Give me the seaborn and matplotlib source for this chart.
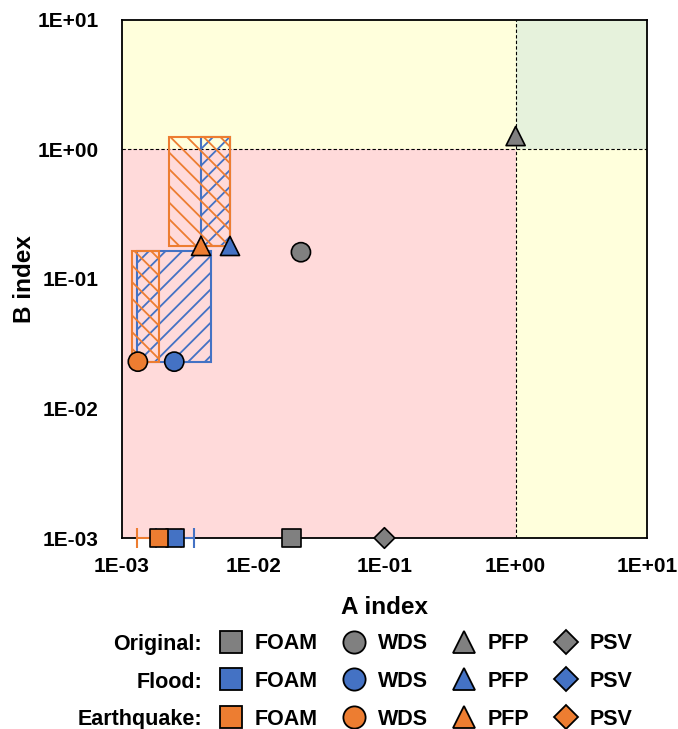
import matplotlib
matplotlib.use("Agg")
import matplotlib.pyplot as plt
import matplotlib.ticker as mticker
from matplotlib.patches import Rectangle
from matplotlib.lines import Line2D
import pandas as pd
import seaborn as sns

# scenarios and colours
scenarios = ["Original", "Flood", "Earthquake"]
colors = {"Original": "#808080", "Flood": "#4472C4", "Earthquake": "#ED7D31"}
systems = ["FOAM", "WDS", "PFP", "PSV"]
markers = {"FOAM": "s", "WDS": "o", "PFP": "^", "PSV": "D"}
sizes = {"FOAM": 180, "WDS": 190, "PFP": 190, "PSV": 110}

# point values (A index, B index), order: Original, Flood, Earthquake
foam_a = [0.0196, 0.00254, 0.00191]
foam_b = [1e-3, 1e-3, 1e-3]
wds_a = [0.0231, 0.0025, 0.00132]
wds_b = [0.161, 0.023, 0.023]
pfp_a = [1.0, 0.00665, 0.0040]
pfp_b = [1.27, 0.18, 0.18]
psv_a = [0.1]
psv_b = [1e-3]

# FOAM A-index ranges (Flood, Earthquake)
foam_lo = [0.0018, 0.00131]
foam_hi = [0.00356, 0.0028]

# range boxes: (scenario, a_min, a_max, b_min, b_max)
wds_box = [("Flood", 0.00129, 0.00474, 0.023, 0.164),
           ("Earthquake", 0.00119, 0.00191, 0.023, 0.164)]
pfp_box = [("Flood", 0.0040, 0.00665, 0.18, 1.256),
           ("Earthquake", 0.00227, 0.00665, 0.18, 1.256)]

threshold = 1.0
lim = (1e-3, 1e1)

rows = []
for sys_name, xs, ys in [("FOAM", foam_a, foam_b), ("WDS", wds_a, wds_b),
                         ("PFP", pfp_a, pfp_b), ("PSV", psv_a, psv_b)]:
    for sc, x, y in zip(scenarios, xs, ys):
        rows.append({"scenario": sc, "system": sys_name, "A": x, "B": y})
df = pd.DataFrame(rows)

sns.set_theme(style="white")
plt.rcParams["font.family"] = ["Liberation Sans", "DejaVu Sans"]
plt.rcParams["font.weight"] = "bold"
plt.rcParams["text.color"] = "black"
plt.rcParams["axes.labelcolor"] = "black"
plt.rcParams["xtick.color"] = "black"
plt.rcParams["ytick.color"] = "black"
plt.rcParams["hatch.linewidth"] = 1.3

fig = plt.figure(figsize=(6.78, 7.29), dpi=100)
ax = fig.add_axes([0.180, 0.262, 0.774, 0.7106])
ax.set_xscale("log")
ax.set_yscale("log")
ax.set_xlim(lim)
ax.set_ylim(lim)

# background zones
ax.add_patch(Rectangle((lim[0], lim[0]), threshold - lim[0], threshold - lim[0],
                       facecolor="#FFDADA", edgecolor="none", zorder=0))
ax.add_patch(Rectangle((lim[0], threshold), threshold - lim[0], lim[1] - threshold,
                       facecolor="#FFFFDC", edgecolor="none", zorder=0))
ax.add_patch(Rectangle((threshold, lim[0]), lim[1] - threshold, threshold - lim[0],
                       facecolor="#FFFFDC", edgecolor="none", zorder=0))
ax.add_patch(Rectangle((threshold, threshold), lim[1] - threshold, lim[1] - threshold,
                       facecolor="#E6F2DC", edgecolor="none", zorder=0))
ax.axvline(threshold, color="black", ls=(0, (3, 2)), lw=0.8, zorder=1)
ax.axhline(threshold, color="black", ls=(0, (3, 2)), lw=0.8, zorder=1)

# range boxes
for boxes in [wds_box, pfp_box]:
    for sc, x0, x1, y0, y1 in boxes:
        hatch = "//" if sc == "Flood" else "\\\\"
        ax.add_patch(Rectangle((x0, y0), x1 - x0, y1 - y0, facecolor="none",
                               edgecolor=colors[sc], hatch=hatch, lw=1.5, zorder=2))

# FOAM error bars
for sc, x, y, lo, hi in zip(scenarios[1:], foam_a[1:], foam_b[1:], foam_lo, foam_hi):
    ax.errorbar([x], [y], xerr=[[x - lo], [hi - x]], fmt="none", ecolor=colors[sc],
                elinewidth=1.5, capsize=7, capthick=1.5, zorder=3, clip_on=False)

sns.scatterplot(data=df, x="A", y="B", hue="scenario", style="system",
                size="system", sizes=sizes, palette=colors, markers=markers,
                edgecolor="black", linewidth=1.2, legend=False, ax=ax,
                zorder=4, clip_on=False)

ticks = [1e-3, 1e-2, 1e-1, 1e0, 1e1]
fmt = mticker.FuncFormatter(lambda v, p: f"{v:.0E}")
ax.xaxis.set_major_locator(mticker.FixedLocator(ticks))
ax.yaxis.set_major_locator(mticker.FixedLocator(ticks))
ax.xaxis.set_minor_locator(mticker.NullLocator())
ax.yaxis.set_minor_locator(mticker.NullLocator())
ax.xaxis.set_major_formatter(fmt)
ax.yaxis.set_major_formatter(fmt)
ax.tick_params(axis="x", labelsize=15, length=0, pad=14)
ax.tick_params(axis="y", labelsize=15, length=0, pad=17)
for lab in ax.get_xticklabels() + ax.get_yticklabels():
    lab.set_fontweight("bold")
for sp in ax.spines.values():
    sp.set_color("black")
    sp.set_linewidth(1.3)

ax.set_xlabel("A index", fontsize=17.5, fontweight="bold", labelpad=14)
ax.set_ylabel("B index", fontsize=17.5, fontweight="bold", labelpad=1)

# legend grid: columns = systems, rows = scenarios
handles, labels = [], []
for sys_name in systems:
    for sc in scenarios:
        ms = 12 if sys_name == "PSV" else 16
        handles.append(Line2D([], [], ls="none", marker=markers[sys_name], markersize=ms,
                              markerfacecolor=colors[sc], markeredgecolor="black",
                              markeredgewidth=1.3))
        labels.append(sys_name)
leg = fig.legend(handles, labels, ncol=4, loc="upper left",
                 bbox_to_anchor=(0.321, 0.1315), frameon=False,
                 prop={"size": 15.5, "weight": "bold"}, handlelength=1.2,
                 handletextpad=0.5, columnspacing=1.1, labelspacing=0.78,
                 borderpad=0, borderaxespad=0)
row_base = [650, 688, 725.5]
for sc, yp in zip(scenarios, row_base):
    fig.text(202 / 678, 1 - yp / 729, sc + ":", ha="right", va="baseline",
             fontsize=15.5, fontweight="bold")

fig.savefig("out.png", dpi=100)
